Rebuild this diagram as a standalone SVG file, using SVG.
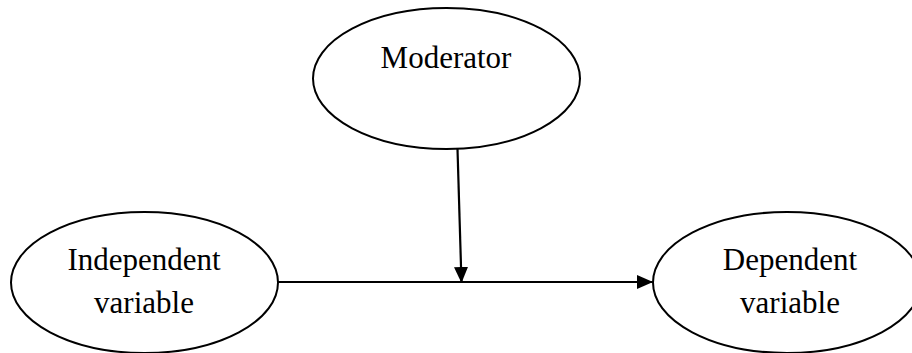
<svg xmlns="http://www.w3.org/2000/svg" width="912" height="353" viewBox="0 0 912 353">
<style>
.node ellipse{fill:#fff;stroke:#000;stroke-width:2}
.node text{font-family:"Liberation Serif","Times New Roman",serif;font-size:31px;fill:#000;text-anchor:middle}
.conn line{stroke:#000;stroke-width:2.2}
</style>
<defs>
<marker id="arr" viewBox="0 0 16 14" refX="16" refY="7" markerWidth="16" markerHeight="14" markerUnits="userSpaceOnUse" orient="auto">
<path d="M0,0 L16,7 L0,14 Z" fill="#000"/>
</marker>
</defs>
<g id="moderator" class="node">
<ellipse cx="446.5" cy="78.5" rx="133.5" ry="70.5"/>
<text x="446" y="68">Moderator</text>
</g>
<g id="independent" class="node">
<ellipse cx="144.5" cy="282.5" rx="133.5" ry="70.5"/>
<text x="144" y="270">Independent</text>
<text x="144" y="313">variable</text>
</g>
<g id="dependent" class="node">
<ellipse cx="787" cy="282.5" rx="134" ry="70.5"/>
<text x="790" y="270">Dependent</text>
<text x="790" y="313">variable</text>
</g>
<g id="connectors" class="conn">
<line x1="278" y1="282" x2="653" y2="282" marker-end="url(#arr)"/>
<line x1="457.5" y1="149" x2="461.5" y2="283" marker-end="url(#arr)"/>
</g>
</svg>
